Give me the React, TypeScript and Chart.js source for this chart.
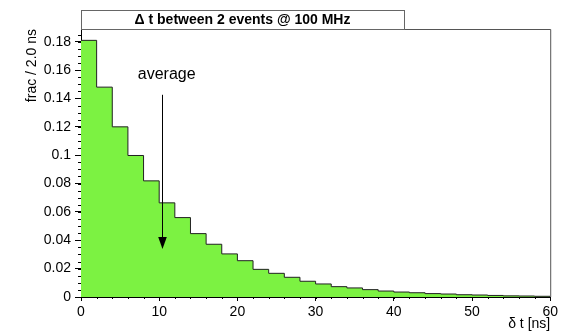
import React, { useEffect, useRef } from "react";
import { Chart, registerables } from "chart.js";

Chart.register(...registerables);

// Bin edges of the histogram (ns)
const binEdges = [0, 2, 4, 6, 8, 10, 12, 14, 16, 18, 20, 22, 24, 26, 28, 30, 32, 34, 36, 38, 40, 42, 44, 46, 48, 50, 52, 54, 56, 58, 60];
// Fraction per 2 ns bin
const fractions = [
  0.181, 0.148, 0.12, 0.0998, 0.0819, 0.0664, 0.056, 0.0447, 0.0372, 0.0304,
  0.0256, 0.0195, 0.0167, 0.0139, 0.0111, 0.0092, 0.0073, 0.0064, 0.0052, 0.0042,
  0.0035, 0.003, 0.0024, 0.0021, 0.0016, 0.0014, 0.0011, 0.0008, 0.0007, 0.0005,
];
const xTickStep = 10;
const yTickStep = 0.02;
const xMinorStep = 2;
const yMinorStep = 0.005;
const averageX = 10.3;
const arrowFromY = 0.1426;
const arrowToY = 0.0339;
const averageLabel = "average";
const averageLabelX = 7.26;
const averageLabelY = 0.157;
const titleText = "\u0394 t between 2 events @ 100 MHz";
const xTitle = "\u03b4 t [ns]";
const yTitle = "frac / 2.0 ns";
const xMin = 0;
const xMax = 60;
const yMin = 0;
const yMax = 0.189;

const FONT = "'Liberation Sans', Arial, Helvetica, sans-serif";

const decorPlugin = {
  id: "decor",
  afterDraw(chart: any) {
    const { ctx, chartArea, scales } = chart;
    const xs = scales.x;
    const ys = scales.y;
    ctx.save();
    // frame top/right
    ctx.strokeStyle = "#555";
    ctx.lineWidth = 1;
    ctx.beginPath();
    ctx.moveTo(chartArea.left, chartArea.top + 0.5);
    ctx.lineTo(chartArea.right + 0.5, chartArea.top + 0.5);
    ctx.lineTo(chartArea.right + 0.5, chartArea.bottom);
    ctx.stroke();

    // minor ticks
    ctx.strokeStyle = "#000";
    ctx.beginPath();
    for (let v = xMin; v <= xMax + 1e-9; v += xMinorStep) {
      const px = Math.round(xs.getPixelForValue(v)) + 0.5;
      ctx.moveTo(px, chartArea.bottom);
      ctx.lineTo(px, chartArea.bottom + 2);
    }
    for (let v = yMin; v <= yMax + 1e-9; v += yMinorStep) {
      const py = Math.round(ys.getPixelForValue(v)) + 0.5;
      ctx.moveTo(chartArea.left, py);
      ctx.lineTo(chartArea.left - 3, py);
    }
    ctx.stroke();

    // title box
    const bx = chartArea.left;
    const by = 10;
    const bw = 404 - chartArea.left;
    const bh = chartArea.top - by;
    ctx.fillStyle = "#fff";
    ctx.fillRect(bx, by, bw, bh);
    ctx.strokeStyle = "#666";
    ctx.strokeRect(bx + 0.5, by + 0.5, bw, bh);
    ctx.fillStyle = "#000";
    ctx.font = `bold 14px ${FONT}`;
    ctx.textAlign = "center";
    ctx.textBaseline = "middle";
    ctx.fillText(titleText, bx + bw / 2, by + bh / 2 + 0.5);

    // average arrow
    const ax = Math.round(xs.getPixelForValue(averageX)) + 0.5;
    const ay0 = ys.getPixelForValue(arrowFromY);
    const ay1 = ys.getPixelForValue(arrowToY);
    ctx.strokeStyle = "#000";
    ctx.beginPath();
    ctx.moveTo(ax, ay0);
    ctx.lineTo(ax, ay1 - 8);
    ctx.stroke();
    ctx.fillStyle = "#000";
    ctx.beginPath();
    ctx.moveTo(ax - 4.3, ay1 - 12);
    ctx.lineTo(ax + 4.3, ay1 - 12);
    ctx.lineTo(ax, ay1);
    ctx.closePath();
    ctx.fill();

    ctx.font = `16px ${FONT}`;
    ctx.textAlign = "left";
    ctx.textBaseline = "middle";
    ctx.fillText(averageLabel, xs.getPixelForValue(averageLabelX), ys.getPixelForValue(averageLabelY));
    ctx.restore();
  },
};

export default function App() {
  const ref = useRef<HTMLCanvasElement | null>(null);
  useEffect(() => {
    document.body.style.margin = "0";
    const canvas = ref.current;
    if (!canvas) return;
    const data = binEdges.map((x, i) => ({ x, y: i < fractions.length ? fractions[i] : 0 }));
    const chart = new Chart(canvas, {
      type: "line",
      data: {
        datasets: [
          {
            data,
            stepped: "before",
            fill: "origin",
            backgroundColor: "rgb(124,242,66)",
            borderColor: "#222",
            borderWidth: 1,
            pointRadius: 0,
          } as any,
        ],
      },
      options: {
        animation: false,
        responsive: false,
        maintainAspectRatio: false,
        layout: { padding: { left: 0, right: 9, top: 29, bottom: 0 } },
        plugins: { legend: { display: false }, tooltip: { enabled: false } },
        scales: {
          x: {
            type: "linear",
            min: xMin,
            max: xMax,
            afterFit: (s: any) => {
              s.height = 36;
            },
            grid: { drawOnChartArea: false, tickLength: 4, color: "#000" },
            border: { display: true, color: "#000" },
            ticks: {
              stepSize: xTickStep,
              includeBounds: false,
              maxRotation: 0,
              padding: 3,
              color: "#000",
              font: { family: FONT, size: 14 },
            },
            title: {
              display: true,
              text: xTitle,
              align: "end",
              color: "#000",
              padding: { top: 0, bottom: 0 },
              font: { family: FONT, size: 14 },
            },
          },
          y: {
            type: "linear",
            min: yMin,
            max: yMax,
            afterFit: (s: any) => {
              s.width = 81;
            },
            grid: { drawOnChartArea: false, tickLength: 6, color: "#000" },
            border: { display: true, color: "#000" },
            ticks: {
              stepSize: yTickStep,
              includeBounds: false,
              padding: 4,
              color: "#000",
              font: { family: FONT, size: 14 },
              callback: (v: any) => String(Number(Number(v).toFixed(3))),
            },
            title: {
              display: true,
              text: yTitle,
              align: "end",
              color: "#000",
              padding: { top: 24, bottom: 0 },
              font: { family: FONT, size: 14 },
            },
          },
        },
      } as any,
      plugins: [decorPlugin],
    });
    return () => chart.destroy();
  }, []);
  return <canvas ref={ref} width={561} height={333} style={{ display: "block" }} />;
}
